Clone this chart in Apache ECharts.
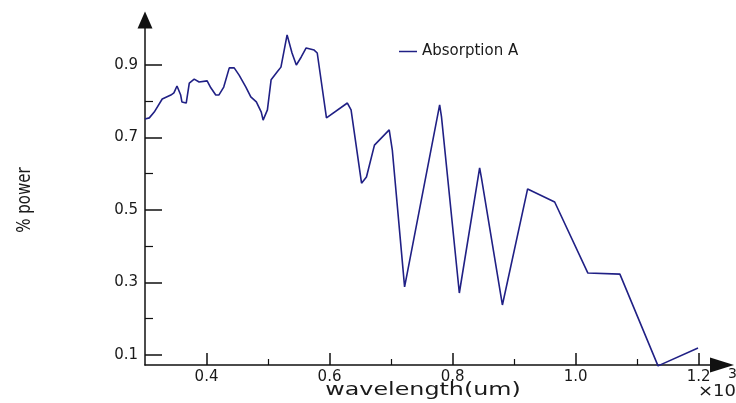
<!DOCTYPE html>
<html>
<head>
<meta charset="utf-8">
<script src="https://cdn.jsdelivr.net/npm/echarts@6/dist/echarts.min.js"></script>
<style>
  html, body { margin: 0; padding: 0; background: #fff; }
  #chart { width: 736px; height: 403px; }
</style>
</head>
<body>
<div id="chart"></div>
<script>
var dom = document.getElementById("chart");
var myChart = echarts.init(dom);

// values (x shown in um, axis scaled x10^3)
var wavelength = [0.300, 0.307, 0.315, 0.328, 0.342, 0.347, 0.352, 0.358, 0.360, 0.367,
    0.372, 0.380, 0.388, 0.401, 0.407, 0.415, 0.420, 0.428, 0.437, 0.445,
    0.453, 0.464, 0.472, 0.481, 0.489, 0.492, 0.499, 0.505, 0.515, 0.521,
    0.531, 0.539, 0.546, 0.554, 0.562, 0.575, 0.580, 0.595, 0.629, 0.635,
    0.652, 0.660, 0.673, 0.697, 0.702, 0.722, 0.779, 0.782, 0.811, 0.844,
    0.847, 0.881, 0.922, 0.966, 1.020, 1.072, 1.134, 1.199];
var absorption = [0.751, 0.754, 0.770, 0.806, 0.817, 0.823, 0.842, 0.817, 0.798, 0.795,
    0.850, 0.861, 0.853, 0.856, 0.837, 0.817, 0.817, 0.839, 0.892, 0.892,
    0.872, 0.839, 0.812, 0.798, 0.770, 0.748, 0.776, 0.859, 0.881, 0.894,
    0.983, 0.933, 0.900, 0.922, 0.947, 0.941, 0.933, 0.754, 0.795, 0.776,
    0.574, 0.591, 0.679, 0.721, 0.666, 0.288, 0.790, 0.757, 0.271, 0.616,
    0.588, 0.238, 0.558, 0.522, 0.326, 0.323, 0.070, 0.119];

var xMajor = [0.4, 0.6, 0.8, 1.0, 1.2];
var xMinor = [0.5, 0.7, 0.9, 1.1];
var yMajor = [0.1, 0.3, 0.5, 0.7, 0.9];
var yMinor = [0.2, 0.4, 0.6, 0.8];

var seriesName = 'Absorption A';
var lineColor = '#202085';
var axisColor = '#111';
var textColor = '#1a1a1a';
var font = 'DejaVu Sans';

var points = [];
for (var i = 0; i < wavelength.length; i++) {
    points.push([wavelength[i], absorption[i]]);
}

var xMin = 0.3, xMax = 1.238;
var yMin = 0.0724, yMax = 1.024;

option = {
    backgroundColor: '#fff',
    animation: false,
    grid: { left: 145, right: 14, top: 20, bottom: 38 },
    legend: {
        data: [{ name: seriesName, icon: 'rect' }],
        left: 394,
        top: 39,
        itemWidth: 18,
        itemHeight: 1.5,
        textStyle: { fontFamily: font, fontSize: 15, color: textColor }
    },
    xAxis: [{
        type: 'value',
        min: xMin,
        max: xMax,
        splitLine: { show: false },
        axisLine: {
            onZero: false,
            symbol: ['none', 'triangle'],
            symbolSize: [15, 24],
            lineStyle: { color: axisColor, width: 1.5 }
        },
        axisTick: {
            inside: true,
            length: 12,
            customValues: xMajor,
            lineStyle: { color: axisColor, width: 1.5 }
        },
        axisLabel: {
            customValues: xMajor,
            margin: 5,
            fontFamily: font,
            fontSize: 15,
            color: textColor,
            formatter: function (v) { return v.toFixed(1); }
        }
    }, {
        type: 'value',
        min: xMin,
        max: xMax,
        position: 'bottom',
        splitLine: { show: false },
        axisLine: { show: false },
        axisLabel: { show: false },
        axisTick: {
            inside: true,
            length: 6,
            customValues: xMinor,
            lineStyle: { color: axisColor, width: 1.2 }
        }
    }],
    yAxis: [{
        type: 'value',
        min: yMin,
        max: yMax,
        splitLine: { show: false },
        axisLine: {
            show: true,
            onZero: false,
            symbol: ['none', 'triangle'],
            symbolSize: [15, 17],
            lineStyle: { color: axisColor, width: 1.5 }
        },
        axisTick: {
            show: true,
            inside: true,
            length: 17,
            customValues: yMajor,
            lineStyle: { color: axisColor, width: 1.5 }
        },
        axisLabel: {
            customValues: yMajor,
            margin: 7,
            fontFamily: font,
            fontSize: 15,
            color: textColor,
            formatter: function (v) { return v.toFixed(1); }
        }
    }, {
        type: 'value',
        min: yMin,
        max: yMax,
        position: 'left',
        splitLine: { show: false },
        axisLine: { show: false },
        axisLabel: { show: false },
        axisTick: {
            show: true,
            inside: true,
            length: 8,
            customValues: yMinor,
            lineStyle: { color: axisColor, width: 1.2 }
        }
    }],
    graphic: [{
        type: 'text',
        x: 423,
        y: 391,
        scaleX: 1.4,
        style: {
            text: 'wavelength(um)',
            font: '17px "DejaVu Sans"',
            fill: textColor,
            textAlign: 'center',
            textVerticalAlign: 'middle'
        }
    }, {
        type: 'text',
        x: 25,
        y: 200,
        rotation: Math.PI / 2,
        scaleY: 1.3,
        style: {
            text: '% power',
            font: '15px "DejaVu Sans"',
            fill: textColor,
            textAlign: 'center',
            textVerticalAlign: 'middle'
        }
    }, {
        type: 'text',
        x: 736,
        y: 392,
        scaleX: 1.2,
        style: {
            text: '×10',
            font: '15px "DejaVu Sans"',
            fill: textColor,
            textAlign: 'right',
            textVerticalAlign: 'middle'
        }
    }, {
        type: 'text',
        x: 728,
        y: 374,
        style: {
            text: '3',
            font: '14px "DejaVu Sans"',
            fill: textColor,
            textAlign: 'left',
            textVerticalAlign: 'middle'
        }
    }],
    series: [{
        name: seriesName,
        type: 'line',
        xAxisIndex: 0,
        yAxisIndex: 0,
        data: points,
        clip: false,
        showSymbol: false,
        symbol: 'none',
        lineStyle: { color: lineColor, width: 1.6 },
        itemStyle: { color: lineColor }
    }]
};

if (option && typeof option === "object") {
    myChart.setOption(option, true);
}
</script>
</body>
</html>
